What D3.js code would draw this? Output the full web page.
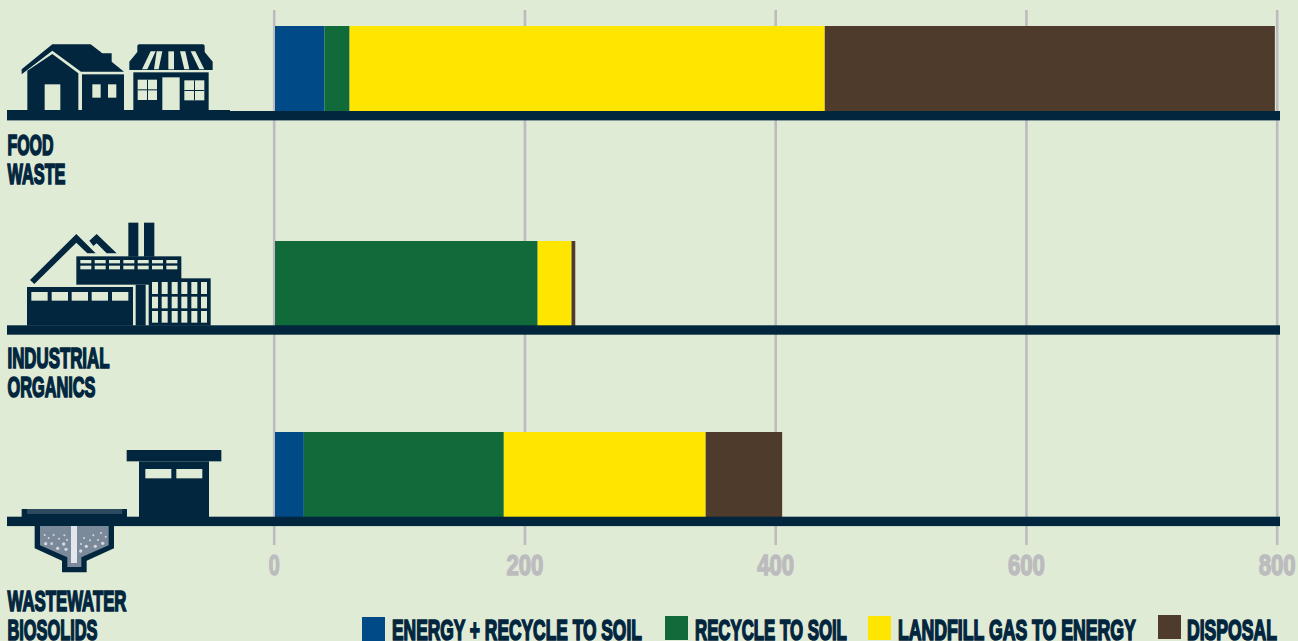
<!DOCTYPE html>
<html><head><meta charset="utf-8">
<script src="https://cdn.jsdelivr.net/npm/d3@7/dist/d3.min.js"></script>
<style>
html,body{margin:0;padding:0;background:#e0ebd6;overflow:hidden}
svg{display:block}
text{font-family:"Liberation Sans Narrow","Liberation Sans",sans-serif;font-weight:700}
</style></head><body>
<svg id="c" width="1298" height="641"></svg>
<script>
const categories = ["Food Waste","Industrial Organics","Wastewater Biosolids"];
const energyRecycle = [39.5, 0, 23];
const recycleSoil = [20, 209.5, 159.5];
const landfillGas = [379, 27, 161];
const disposal = [359, 3, 61];
const tickValues = [0, 200, 400, 600, 800];
const seriesNames = ["ENERGY + RECYCLE TO SOIL","RECYCLE TO SOIL","LANDFILL GAS TO ENERGY","DISPOSAL"];
const seriesColors = ["#004a87","#116a39","#ffe600","#4f3b2b"];

const NAVY="#02263e", BG="#e0ebd6", GRID="#bcbcbe";
const svg=d3.select("#c");
svg.append("rect").attr("width",1298).attr("height",641).attr("fill",BG);

const x=d3.scaleLinear().domain([0,800]).range([275,1278]);
const barTop=d3.scaleOrdinal().domain(categories).range([26,241,432]);
const groundTop=d3.scaleOrdinal().domain(categories).range([111,325.3,516.7]);
const barH=85, lineH=9.4;

// squeezes a text to a given width about its anchor point
function fit(sel,w,px,py){
  const n=sel.node(), w0=n.getComputedTextLength();
  sel.attr("x",0).attr("y",0).attr("vector-effect","non-scaling-stroke")
     .attr("transform",`translate(${px},${py}) scale(${w/w0},1)`);
}

// axis + grid
const axis=d3.axisBottom(x).tickValues(tickValues).tickSize(535).tickPadding(8).tickFormat(d3.format("d"));
const gAxis=svg.append("g").attr("transform","translate(-1.3,10)").call(axis);
gAxis.select(".domain").remove();
gAxis.selectAll(".tick line").attr("stroke",GRID).attr("stroke-width",2.6);
gAxis.selectAll(".tick text").attr("fill",GRID).attr("font-size",29).attr("dy",0)
  .attr("dominant-baseline","auto")
  .attr("stroke",GRID).attr("stroke-width",1.3)
  .each(function(d){ fit(d3.select(this),d===0?11:37,0,565); });

// stacked bars
const rows=categories.map((c,i)=>({c,s0:energyRecycle[i],s1:recycleSoil[i],s2:landfillGas[i],s3:disposal[i]}));
const stack=d3.stack().keys(["s0","s1","s2","s3"])(rows);
svg.append("g").selectAll("g").data(stack).join("g").attr("fill",(d,i)=>seriesColors[i])
  .selectAll("rect").data(d=>d).join("rect")
  .attr("x",d=>x(d[0])).attr("width",d=>x(d[1])-x(d[0]))
  .attr("y",d=>barTop(d.data.c)).attr("height",barH);

// ground lines
svg.append("g").selectAll("rect").data(categories).join("rect")
  .attr("x",7).attr("width",1273).attr("y",c=>groundTop(c)).attr("height",lineH).attr("fill",NAVY);

// category labels
const labelLines=[
 [["FOOD",46,155],["WASTE",58,184]],
 [["INDUSTRIAL",102,368],["ORGANICS",88,397]],
 [["WASTEWATER",119,611],["BIOSOLIDS",90,640]]];
function label(g,t,xp,yp,w){
  const s=g.append("text").attr("font-size",29).attr("fill",NAVY)
   .attr("stroke",NAVY).attr("stroke-width",1.4).text(t);
  fit(s,w,xp,yp);
}
labelLines.flat().forEach(([t,w,yp])=>label(svg,t,7.5,yp,w));

// legend
const legendX=[362,665,868,1158], legendY=[617,616,616,615], textX=[392,695,898,1187], textW=[250,152,238,90];
seriesNames.forEach((n,i)=>{
  svg.append("rect").attr("x",legendX[i]).attr("y",legendY[i]).attr("width",23).attr("height",24).attr("fill",seriesColors[i]);
  label(svg,n,textX[i],640,textW[i]);
});

// icons, drawn in 3x zoom coordinates
function icon(ox,oy){return svg.append("g").attr("transform",`translate(${ox},${oy}) scale(${1/3})`);}
const P=(g,d,f)=>g.append("path").attr("d",d).attr("fill",f||NAVY);
const R=(g,a,b,w,h,f)=>g.append("rect").attr("x",a).attr("y",b).attr("width",w).attr("height",h).attr("fill",f||NAVY);

// food
let g=icon(0,20);
R(g,21,270,669,30);
P(g,"M65,163V148L157,73H272L307,100H335V125L372,155H243L157,92Z");
P(g,"M82,270V152L157,102L235,160V270Z");
R(g,134,193,47,77,BG);
R(g,246,163,126,107);
R(g,277,193,25,40,BG);R(g,324,193,25,40,BG);
P(g,"M412,78Q412,73 418,73H608Q614,73 614,78V96L638,125V150H388V125L412,96Z");
P(g,"M426,148L452,94H467L442,148Z",BG);
P(g,"M476,148L487,94H470L462,148Z",BG);
P(g,"M505,148V94H522V148Z",BG);
P(g,"M553,148L540,94H556L568,148Z",BG);
P(g,"M598,148L572,94H586L613,148Z",BG);
R(g,400,157,226,113);
R(g,487,172,52,98,BG);
R(g,413,179,58,61,BG);R(g,553,181,60,60,BG);
R(g,441,179,3,61);R(g,413,208,58,3);R(g,582,181,3,60);R(g,553,210,60,3);

// industrial
g=icon(0,210);
P(g,"M90,210L229,72L287,130H262L229,98L103,222Z");
P(g,"M268,92L290,72L350,130H320L290,100L280,108Z");
R(g,385,38,30,102);R(g,432,38,31,102);
R(g,229,139,315,85);
d3.range(7).forEach(i=>{R(g,241+i*43,150,33,10,BG);R(g,241+i*43,167,33,11,BG);});
R(g,81,231,318,116);
[94,155,215,275,336].forEach(a=>R(g,a,246,49,26,BG));
R(g,407,224,30,123);
R(g,446,205,186,142);
[456,485,515,544,574,603].forEach(a=>[[216,36],[260,35],[303,35]].forEach(r=>R(g,a,r[0],18,r[1],BG)));

// wastewater
g=icon(0,440);
R(g,380,30,284,34);
R(g,417,64,210,170);
R(g,436,87,78,28,BG);R(g,529,87,78,28,BG);
R(g,65,207,316,25);
R(g,81,207,286,15,"#2e4a60");
P(g,"M104,258V325L186,362V397H260V362L342,325V258Z");
P(g,"M120,258V316L202,352V381H244V352L326,316V258Z","#7b8a9a");
R(g,213,258,18,111,"#e3e6ec");
[[134,285,3],[161,285,3],[146,294,3],[177,296,3],[193,286,3],[201,300,3],[137,311,5],[155,311,4],[191,312,5],[173,325,5],[198,328,5],
 [252,294,3],[280,286,3],[303,279,3],[270,301,3],[294,300,3],[317,290,3],[243,312,3],[259,319,5],[286,319,5],[308,310,5],[242,333,5]]
 .forEach(d=>g.append("circle").attr("cx",d[0]).attr("cy",d[1]).attr("r",d[2]).attr("fill","#d5d9dd"));
</script>
</body></html>
